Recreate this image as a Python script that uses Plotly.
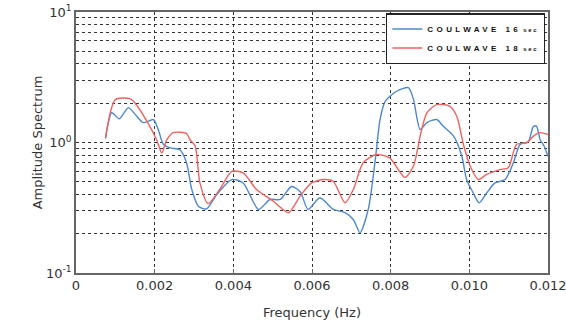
import plotly.graph_objects as go

# Frequency axis (Hz) and amplitude spectra for the two COULWAVE runs
freq_16 = [0.00075, 0.00091, 0.0011, 0.00133, 0.0015, 0.00171, 0.00197, 0.00209, 0.00222,
           0.00239, 0.00264, 0.00281, 0.00294, 0.00311, 0.00332, 0.00358, 0.00396, 0.00425,
           0.00464, 0.00493, 0.00519, 0.00548, 0.0057, 0.0059, 0.0062, 0.00654, 0.00684,
           0.00705, 0.00722, 0.00743, 0.0076, 0.00773, 0.00786, 0.00815, 0.00845, 0.00858,
           0.00875, 0.00892, 0.00917, 0.00934, 0.0096, 0.00981, 0.00993, 0.0101, 0.01025,
           0.01044, 0.01065, 0.01091, 0.01112, 0.01129, 0.0115, 0.01163, 0.01171, 0.0118,
           0.0119, 0.012]
amp_16 = [1.07, 1.69, 1.52, 1.85, 1.65, 1.42, 1.50, 1.26, 0.97,
          0.91, 0.88, 0.70, 0.44, 0.325, 0.31, 0.40, 0.52, 0.49,
          0.307, 0.366, 0.366, 0.46, 0.42, 0.307, 0.377, 0.307, 0.29,
          0.257, 0.204, 0.307, 0.70, 1.50, 2.07, 2.47, 2.63, 2.14,
          1.26, 1.42, 1.50, 1.33, 1.12, 0.785, 0.52, 0.41, 0.345,
          0.41, 0.49, 0.52, 0.70, 0.965, 1.02, 1.33, 1.33, 1.05,
          0.94, 0.78]

freq_18 = [0.00075, 0.001, 0.00137, 0.0015, 0.0018, 0.00205, 0.00218, 0.00231, 0.00247,
           0.00281, 0.0029, 0.00303, 0.00315, 0.00336, 0.00366, 0.00396, 0.00425, 0.00459,
           0.00502, 0.0054, 0.0057, 0.00599, 0.00629, 0.00654, 0.00684, 0.00705, 0.0073,
           0.00764, 0.00798, 0.00836, 0.00858, 0.00875, 0.00892, 0.00917, 0.0095, 0.00968,
           0.00985, 0.01002, 0.01023, 0.01044, 0.01078, 0.01099, 0.0112, 0.01146, 0.01163,
           0.0118, 0.012]
amp_18 = [1.09, 2.13, 2.17, 2.01, 1.46, 1.05, 0.83, 1.05, 1.19,
          1.17, 1.05, 0.94, 0.49, 0.34, 0.44, 0.60, 0.585, 0.436,
          0.355, 0.29, 0.39, 0.49, 0.52, 0.505, 0.345, 0.436, 0.70,
          0.81, 0.76, 0.54, 0.66, 1.12, 1.69, 1.95, 1.90, 1.59,
          0.965, 0.66, 0.52, 0.57, 0.62, 0.64, 0.965, 0.995, 1.12,
          1.19, 1.15]

x_ticks = [0, 0.002, 0.004, 0.006, 0.008, 0.010, 0.012]
x_labels = ["0", "0.002", "0.004", "0.006", "0.008", "0.010", "0.012"]
y_ticks = [0.1, 1, 10]
y_labels = ["10<sup>-1</sup>", "10<sup>0</sup>", "10<sup>1</sup>"]
y_minor = [m * 10 ** e for e in (-1, 0) for m in range(2, 10)]

main_style = "letter-spacing:3.4px"
unit_style = "font-size:6px;letter-spacing:1.6px"
series_names = [
    f"<b><span style='{main_style}'>COULWAVE 16</span> <span style='{unit_style}'>sec</span></b>",
    f"<b><span style='{main_style}'>COULWAVE 18</span> <span style='{unit_style}'>sec</span></b>",
]

fig = go.Figure()
fig.add_trace(go.Scatter(x=freq_16, y=amp_16, mode="lines", name=series_names[0],
                         line=dict(color="#4d88cf", width=1.4, shape="spline", smoothing=0.7)))
fig.add_trace(go.Scatter(x=freq_18, y=amp_18, mode="lines", name=series_names[1],
                         line=dict(color="#f0625e", width=1.4, shape="spline", smoothing=0.7)))

font_main = "DejaVu Sans"
grid = dict(showgrid=True, gridcolor="#333", griddash="dot", gridwidth=1)
fig.update_layout(
    width=566, height=331,
    margin=dict(l=76, r=18, t=12, b=58, autoexpand=False),
    paper_bgcolor="white", plot_bgcolor="white",
    font=dict(family=font_main, size=13, color="#333"),
    showlegend=True,
    legend=dict(x=0.994, y=0.995, xanchor="right", yanchor="top",
                bgcolor="white", bordercolor="#222", borderwidth=1.2,
                font=dict(family="Liberation Sans", size=8, color="#111"),
                tracegroupgap=0, itemwidth=30),
    xaxis=dict(range=[0, 0.012], tickvals=x_ticks, ticktext=x_labels, **grid,
               showline=True, linecolor="#666", linewidth=1.5, mirror=True,
               ticks="inside", ticklen=4, tickcolor="#666", zeroline=False,
               ticklabeloverflow="allow", automargin=False,
               title=dict(text="Frequency (Hz)", font=dict(size=13), standoff=16)),
    yaxis=dict(type="log", range=[-1, 1], tickvals=y_ticks, ticktext=y_labels, **grid,
               minor=dict(tickmode="array", tickvals=y_minor, showgrid=True,
                          gridcolor="#333", griddash="dot", gridwidth=1, ticks=""),
               showline=True, linecolor="#666", linewidth=1.5, mirror=True,
               ticks="", zeroline=False, automargin=False,
               title=dict(text="Amplitude Spectrum", font=dict(size=13), standoff=0)),
)

fig.write_html("out.html")
